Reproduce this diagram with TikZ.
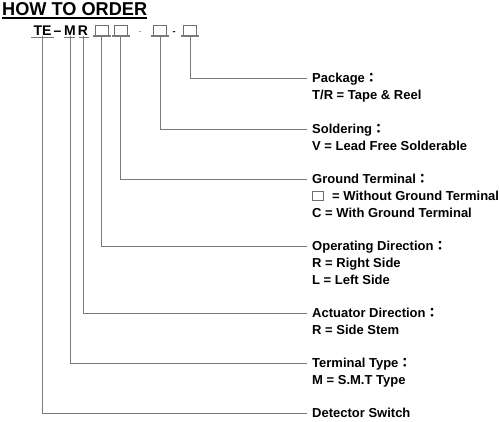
\documentclass[tikz,border=0pt]{standalone}
\usepackage{fontspec}
\setmainfont{Liberation Sans}
\newfontfamily\cjkf{Noto Sans CJK TC}
\definecolor{linegray}{HTML}{7A7A7A}
\definecolor{boxgray}{HTML}{6E6E6E}
\newcommand{\fcolon}{{\cjkf\bfseries ：}}
\begin{document}
\begin{tikzpicture}[x=1pt,y=-1pt,
  lbl/.style={font=\bfseries\fontsize{13}{15}\selectfont, inner sep=0pt, anchor=west, text height=9.3pt, text depth=0pt},
  code/.style={font=\bfseries\fontsize{14}{15}\selectfont, inner sep=0pt, anchor=center, text height=10pt, text depth=0pt},
  slot/.style={draw=boxgray, line width=0.8pt, minimum width=13pt, minimum height=10.5pt, inner sep=0pt},
  uline/.style={draw=linegray, line width=1.6pt},
  conn/.style={draw=linegray, line width=0.9pt},
]
\useasboundingbox (0,0) rectangle (500,422);

% title
\node[anchor=base west, inner sep=0pt] (title) at (2,15.4) {\resizebox{145pt}{13pt}{\bfseries HOW TO ORDER}};
\draw[line width=1.8pt] ([yshift=-2.3pt]title.base west) -- ([yshift=-2.3pt]title.base east);

% code line
\node[code] (te) at (42.5,31) {TE};
\node[code] (dash0) at (57.5,31) {–};
\node[code] (m) at (70,31) {M};
\node[code] (r) at (83,31) {R};
\node[slot] (s1) at (101.5,30.5) {};
\node[slot] (s2) at (120.5,30.5) {};
\node[code, text=gray, font=\fontsize{9}{10}\selectfont] (dash1) at (140,29.5) {-};
\node[slot] (s3) at (160,30.5) {};
\node[code, font=\bfseries\fontsize{9}{10}\selectfont] (dash2) at (174,30) {-};
\node[slot] (s4) at (190,30.5) {};

% underlines
\draw[uline] ([xshift=-11.5pt,yshift=-1.2pt]te.south) -- ([xshift=11pt,yshift=-1.2pt]te.south);
\draw[uline] ([xshift=-6pt,yshift=-1.2pt]m.south) -- ([xshift=5pt,yshift=-1.2pt]m.south);
\draw[uline] ([xshift=-4.5pt,yshift=-1.2pt]r.south) -- ([xshift=5.5pt,yshift=-1.2pt]r.south);
\foreach \s in {s1,s2,s3,s4}
  \draw[uline] ([xshift=-9pt]\s.south) -- ([xshift=9pt]\s.south);

% labels
\node[lbl] (pkg) at (312,78) {Package\fcolon};
\node[lbl] (pkg2) at (312,95) {T/R = Tape \& Reel};
\node[lbl] (sol) at (312,129) {Soldering\fcolon};
\node[lbl] (sol2) at (312,146) {V = Lead Free Solderable};
\node[lbl] (gnd) at (312,179) {Ground Terminal\fcolon};
\node[draw=boxgray, line width=0.7pt, minimum width=11pt, minimum height=9.5pt, inner sep=0pt] (gbox) at (317.5,196) {};
\node[lbl] (gnd2) at (332,196) {= Without Ground Terminal};
\node[lbl] (gnd3) at (312,213) {C = With Ground Terminal};
\node[lbl] (op) at (312,246) {Operating Direction\fcolon};
\node[lbl] (op2) at (312,263) {R = Right Side};
\node[lbl] (op3) at (312,280) {L = Left Side};
\node[lbl] (act) at (312,313) {Actuator Direction\fcolon};
\node[lbl] (act2) at (312,330) {R = Side Stem};
\node[lbl] (term) at (312,363) {Terminal Type\fcolon};
\node[lbl] (term2) at (312,380) {M = S.M.T Type};
\node[lbl] (det) at (312,413) {Detector Switch};

% connectors
\draw[conn] (s4.south) |- ([xshift=-5pt]pkg.west);
\draw[conn] (s3.south) |- ([xshift=-5pt]sol.west);
\draw[conn] (s2.south) |- ([xshift=-5pt]gnd.west);
\draw[conn] (s1.south) |- ([xshift=-5pt]op.west);
\draw[conn] (r.south) |- ([xshift=-5pt]act.west);
\draw[conn] (m.south) |- ([xshift=-5pt]term.west);
\draw[conn] (te.south) |- ([xshift=-5pt]det.west);
\end{tikzpicture}
\end{document}
